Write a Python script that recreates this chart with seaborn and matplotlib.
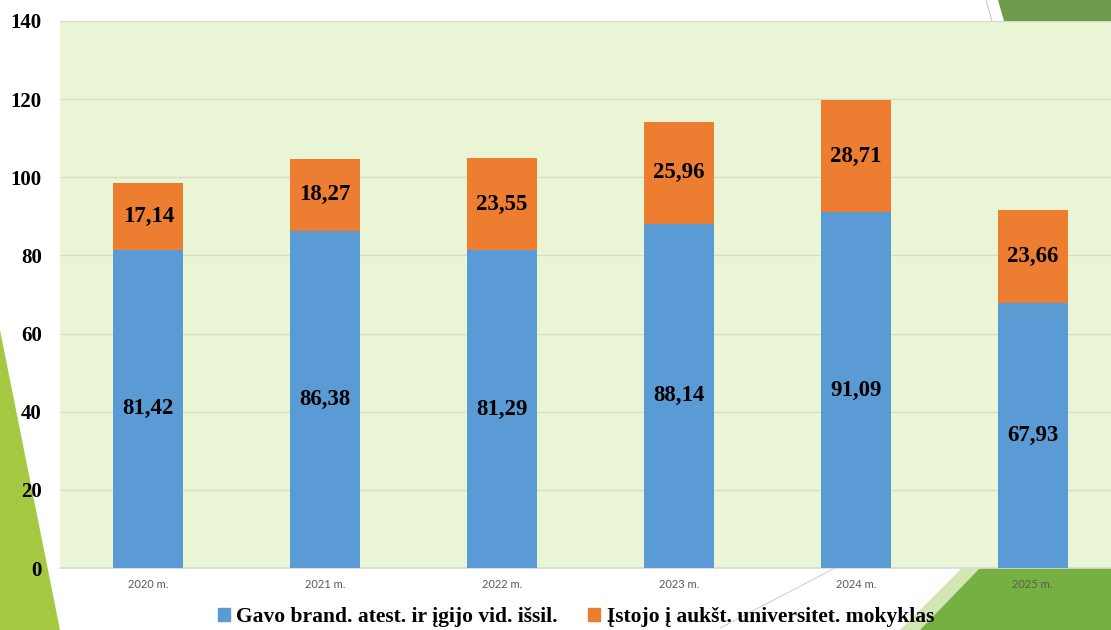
import numpy as np
import pandas as pd
import seaborn as sns
import matplotlib.pyplot as plt
from matplotlib.patches import Polygon, Patch

years = ['2020 m.', '2021 m.', '2022 m.', '2023 m.', '2024 m.', '2025 m.']
got_certificate = [81.42, 86.38, 81.29, 88.14, 91.09, 67.93]
entered_university = [17.14, 18.27, 23.55, 25.96, 28.71, 23.66]
series_names = ['Gavo brand. atest. ir įgijo vid. išsil.',
                'Įstojo į aukšt. universitet. mokyklas']

blue = '#5B9BD5'
orange = '#ED7D31'

sns.set_theme(style='white')
plt.rcParams['font.family'] = ['Liberation Serif', 'DejaVu Serif']
plt.rcParams['text.color'] = 'black'

df = pd.DataFrame({'year': years, 'blue': got_certificate, 'orange': entered_university})
df['total'] = df['blue'] + df['orange']

W, H = 1111, 630
fig = plt.figure(figsize=(W / 100, H / 100), dpi=100)
fig.patch.set_facecolor('white')

def px(x, y):
    return (x / W, 1 - y / H)

# decorative shapes from the slide template, kept behind the chart
deco = [
    ([(0, 330), (0, 630), (60, 630)], '#A4C842'),
    ([(998, 0), (1004, 21), (1111, 21), (1111, 0)], '#6E9B4C'),
    ([(962, 568), (1111, 568), (1111, 630), (900, 630)], '#D4E6B5'),
    ([(980, 568), (1111, 568), (1111, 630), (920, 630)], '#76B043'),
]
for pts, col in deco:
    fig.add_artist(Polygon([px(*p) for p in pts], closed=True,
                           transform=fig.transFigure, facecolor=col,
                           edgecolor='none', zorder=-2))
fig.add_artist(plt.Line2D([986 / W, 992 / W], [1, 1 - 21 / H], color='#C8C8C8',
                          lw=0.8, zorder=-2))
fig.add_artist(plt.Line2D([835 / W, 720 / W], [1 - 568 / H, 1 - 628 / H], color='#D0D0D0',
                          lw=0.8, zorder=-2))

ax = fig.add_axes([60 / W, 1 - 568 / H, (1120.5 - 59.5) / W, 547 / H])
ax.set_facecolor('#EAF5D6')

sns.barplot(data=df, x='year', y='total', color=orange, width=0.395,
            saturation=1, linewidth=0, edgecolor='none', ax=ax, zorder=3)
sns.barplot(data=df, x='year', y='blue', color=blue, width=0.395,
            saturation=1, linewidth=0, edgecolor='none', ax=ax, zorder=3)

ax.set_ylim(0, 140)
ax.set_xlim(-0.5, 5.5)
ax.set_yticks(range(0, 141, 20))
ax.yaxis.grid(True, color='#D6DCCB', lw=1, zorder=0)
ax.set_axisbelow(True)
for s in ['top', 'right', 'left']:
    ax.spines[s].set_visible(False)
ax.spines['bottom'].set_color('#D9D9D9')
ax.set_xlabel('')
ax.set_ylabel('')
ax.tick_params(axis='y', length=0, pad=13, labelsize=15, labelcolor='black')
for t in ax.get_yticklabels():
    t.set_fontweight('bold')
ax.tick_params(axis='x', length=0, pad=8, labelsize=8, labelcolor='#595959')
for t in ax.get_xticklabels():
    t.set_family(['Lato', 'DejaVu Sans'])

for i, row in df.iterrows():
    ax.text(i, row['blue'] / 2, f"{row['blue']:.2f}".replace('.', ','),
            ha='center', va='center', fontsize=16.5, fontweight='bold',
            color='black', zorder=5)
    ax.text(i, row['blue'] + row['orange'] / 2, f"{row['orange']:.2f}".replace('.', ','),
            ha='center', va='center', fontsize=16.5, fontweight='bold',
            color='black', zorder=5)

handles = [Patch(color=blue), Patch(color=orange)]
fig.legend(handles, series_names, loc='center', bbox_to_anchor=(0.5185, 1 - 617 / H),
           ncol=2, frameon=False, handlelength=0.55, handleheight=0.55,
           handletextpad=0.3, columnspacing=1.4,
           prop={'size': 15.5, 'weight': 'bold'})

fig.savefig('out.png', dpi=100)
